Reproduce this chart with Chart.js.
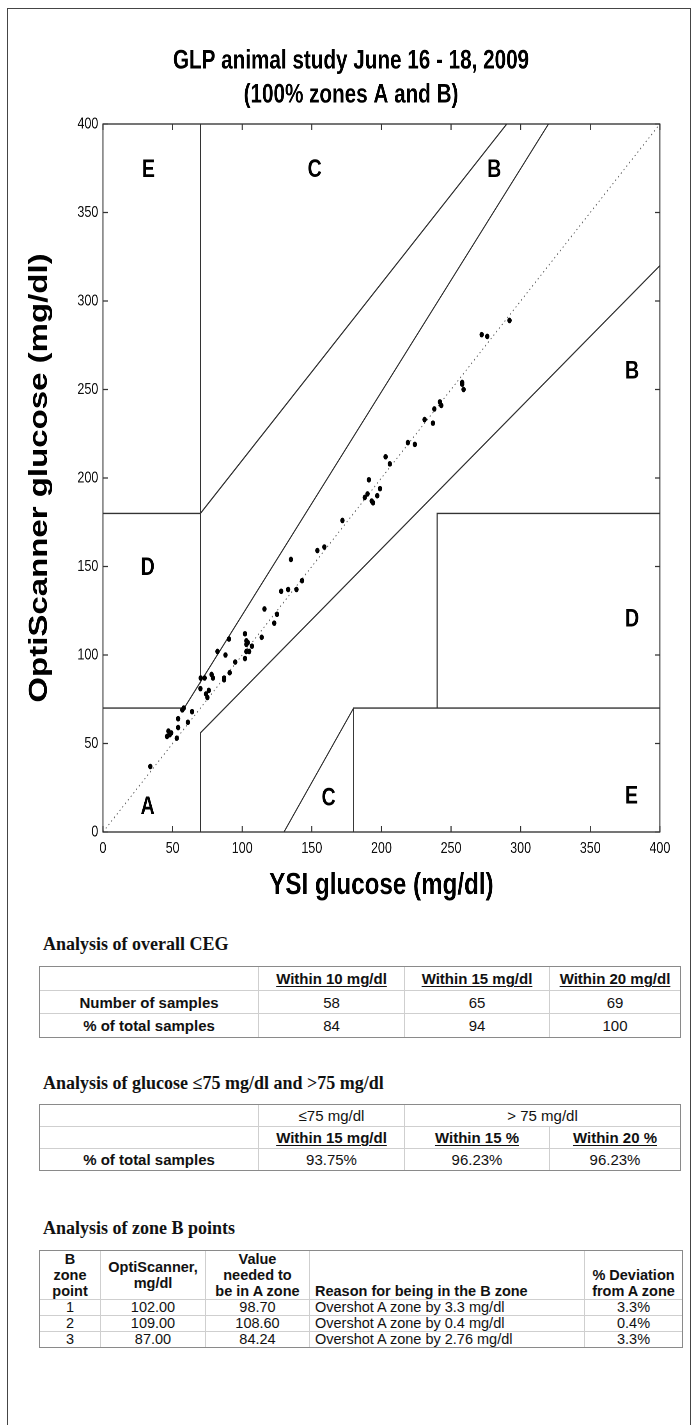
<!DOCTYPE html>
<html>
<head>
<meta charset="utf-8">
<script src="https://cdn.jsdelivr.net/npm/chart.js@4.4.1/dist/chart.umd.min.js"></script>
<style>
  html, body { margin: 0; padding: 0; background: #fff; overflow: hidden; }
  body { width: 697px; height: 1425px; position: relative; }
  #frame { position: absolute; left: 7px; top: 8px; width: 684px; height: 1440px; border: 1.5px solid #454545; box-sizing: border-box; pointer-events: none; }
  /* the chart picture in the reference is horizontally condensed: lay it out wide, then squeeze */
  #wrap { position: absolute; left: 0; top: 0; width: 894px; height: 915px; transform: scaleX(0.78); transform-origin: 0 0; }
  #chart { position: absolute; left: 0; top: 0; }
  .h { position: absolute; left: 43px; font-family: "Liberation Serif", "Times New Roman", serif; font-weight: bold; font-size: 18px; line-height: 20px; color: #111; white-space: nowrap; }
  table { position: absolute; left: 39px; border-collapse: collapse; table-layout: fixed; font-family: "Liberation Sans", Arial, Helvetica, sans-serif; font-size: 15px; color: #111; outline: 1px solid #8a8a8a; outline-offset: -1px; }
  td { border: 1px solid #cfcfcf; padding: 0; text-align: center; vertical-align: middle; white-space: nowrap; overflow: hidden; line-height: 17px; }
  td.b { font-weight: bold; }
  td.u span { font-weight: bold; text-decoration: underline; text-underline-offset: 2px; }
  #t3 { font-size: 14.5px; }
  #t3 td { line-height: 15px; }
  #t3 tr.hd td { line-height: 16px; }
  #t3 td.l { text-align: left; padding-left: 5px; }
  #t3 td.bot { vertical-align: bottom; }
  #t3 td.top { vertical-align: top; }
</style>
</head>
<body>
<div id="wrap">
  <canvas id="chart" width="894" height="915"></canvas>
</div>
<div class="h" style="top:934px">Analysis of overall CEG</div>
<table id="t1" style="top:966px"></table>
<div class="h" style="top:1073px">Analysis of glucose ≤75 mg/dl and &gt;75 mg/dl</div>
<table id="t2" style="top:1104px"></table>
<div class="h" style="top:1218px">Analysis of zone B points</div>
<table id="t3" style="top:1250px"></table>
<div id="frame"></div>

<script>
// ---------------- chart data ----------------
const chartTitle = ['GLP animal study June 16 - 18, 2009', '(100% zones A and B)'];
const xAxisTitle = 'YSI glucose (mg/dl)';
const yAxisTitle = 'OptiScanner glucose (mg/dl)';
const xTickValues = [0, 50, 100, 150, 200, 250, 300, 350, 400];
const yTickValues = [0, 50, 100, 150, 200, 250, 300, 350, 400];

// reference (YSI) vs OptiScanner readings, mg/dl (69 samples)
const ysiGlucose = [34, 46, 47, 48, 49, 53, 54, 54, 57, 58, 61, 64, 70, 70.2, 73, 74, 75, 76, 78, 79,
  82.25, 87, 87, 88, 90.5, 91, 95, 102, 102, 103, 103, 103, 104, 105, 107, 114, 116, 123, 125, 128,
  133, 135, 139, 143, 154, 159, 172, 188, 190, 191, 193, 194, 197, 199, 203, 206, 219, 224, 231, 237,
  238, 242, 243, 258, 258, 259, 272, 276, 292];
const optiGlucose = [37, 54, 57, 55, 56, 53, 59, 64, 69, 70, 62, 68, 81, 87, 87, 78, 76, 80, 89, 87,
  102, 87, 86, 100, 109, 90, 96, 112, 98, 102, 108, 106, 107, 102, 105, 110, 126, 118, 123, 136,
  137, 154, 137, 142, 159, 161, 176, 189, 191, 199, 187, 186, 190, 194, 212, 208, 220, 219, 233, 231,
  239, 243, 241, 253, 254, 250, 281, 280, 289];

// Clarke error grid boundaries [x, y]
const lineIdentity = [[0, 0], [400, 400]];
const lineAUpper   = [[0, 70], [58.33, 70], [320, 400]];
const lineVert70   = [[70, 84], [70, 400]];
const lineBUpper   = [[0, 180], [70, 180], [290, 400]];
const lineALower   = [[70, 0], [70, 56], [400, 320]];
const lineCLower   = [[130, 0], [180, 70]];
const lineELower   = [[180, 0], [180, 70], [400, 70]];
const lineDLower   = [[240, 70], [240, 180], [400, 180]];

// zone letters
const zoneLabelText = ['E', 'C', 'B', 'B', 'D', 'D', 'A', 'C', 'E'];
const zoneLabelX    = [28, 147, 276, 375, 27, 375, 27, 157, 375];
const zoneLabelY    = [374, 374, 374, 260, 149, 120, 14, 19, 20];

// ---------------- table data ----------------
const t1ColHeads = ['Within 10 mg/dl', 'Within 15 mg/dl', 'Within 20 mg/dl'];
const t1RowLabels = ['Number of samples', '% of total samples'];
const t1Counts = ['58', '65', '69'];
const t1Percents = ['84', '94', '100'];

const t2GroupHeads = ['≤75 mg/dl', '> 75 mg/dl'];
const t2ColHeads = ['Within 15 mg/dl', 'Within 15 %', 'Within 20 %'];
const t2RowLabel = '% of total samples';
const t2Percents = ['93.75%', '96.23%', '96.23%'];

const t3Heads = ['B<br>zone<br>point', 'OptiScanner,<br>mg/dl', 'Value<br>needed to<br>be in A zone', 'Reason for being in the B zone', '% Deviation<br>from A zone'];
const t3Point = ['1', '2', '3'];
const t3Opti = ['102.00', '109.00', '87.00'];
const t3Needed = ['98.70', '108.60', '84.24'];
const t3Reason = ['Overshot A zone by 3.3 mg/dl', 'Overshot A zone by 0.4 mg/dl', 'Overshot A zone by 2.76 mg/dl'];
const t3Deviation = ['3.3%', '0.4%', '3.3%'];

// ---------------- build chart ----------------
const FONT = "'Liberation Sans', Arial, Helvetica, sans-serif";
Chart.defaults.font.family = FONT;
Chart.defaults.color = '#111';

const toPts = a => a.map(p => ({ x: p[0], y: p[1] }));
const boundary = (pts, dotted) => ({
  data: toPts(pts), showLine: true, fill: false, tension: 0,
  borderColor: dotted ? '#6a6a6a' : '#333', borderWidth: dotted ? 1.2 : 1.35,
  borderDash: dotted ? [1.5, 3.5] : [],
  pointRadius: 0, pointHoverRadius: 0, pointHitRadius: 0
});

const framePlugin = {
  id: 'cegFrame',
  afterDraw(chart) {
    const { ctx, chartArea: a, scales: { x, y } } = chart;
    ctx.save();
    ctx.strokeStyle = '#333';
    ctx.lineWidth = 1.35;
    ctx.strokeRect(a.left, a.top, a.right - a.left, a.bottom - a.top);
    ctx.beginPath();
    xTickValues.forEach(v => {
      const px = x.getPixelForValue(v);
      ctx.moveTo(px, a.bottom); ctx.lineTo(px, a.bottom - 6);
      ctx.moveTo(px, a.top); ctx.lineTo(px, a.top + 6);
    });
    yTickValues.forEach(v => {
      const py = y.getPixelForValue(v);
      ctx.moveTo(a.left, py); ctx.lineTo(a.left + 6.5, py);
      ctx.moveTo(a.right, py); ctx.lineTo(a.right - 6.5, py);
    });
    ctx.stroke();
    ctx.fillStyle = '#000';
    ctx.font = 'bold 25px ' + FONT;
    ctx.textAlign = 'left';
    ctx.textBaseline = 'middle';
    zoneLabelText.forEach((t, i) => ctx.fillText(t, x.getPixelForValue(zoneLabelX[i]), y.getPixelForValue(zoneLabelY[i])));
    ctx.restore();
  }
};

new Chart(document.getElementById('chart'), {
  type: 'scatter',
  data: {
    datasets: [
      { data: ysiGlucose.map((v, i) => ({ x: v, y: optiGlucose[i] })), showLine: false,
        pointRadius: 2.8, pointHoverRadius: 2.8, backgroundColor: '#000', borderWidth: 0 },
      boundary(lineIdentity, true),
      boundary(lineAUpper), boundary(lineVert70), boundary(lineBUpper), boundary(lineALower),
      boundary(lineCLower), boundary(lineELower), boundary(lineDLower)
    ]
  },
  options: {
    responsive: false,
    animation: false,
    devicePixelRatio: 2,
    layout: { padding: { top: 30, left: 54, right: 48, bottom: 11 } },
    plugins: {
      legend: { display: false },
      tooltip: { enabled: false },
      title: {
        display: true, text: chartTitle, color: '#000',
        font: { size: 26.5, weight: 'bold', lineHeight: 34 / 26.5 },
        padding: { top: 14, bottom: 12 }
      }
    },
    scales: {
      x: {
        type: 'linear', position: 'bottom', min: 0, max: 400,
        afterBuildTicks: s => { s.ticks = xTickValues.map(v => ({ value: v })); },
        afterFit: s => { s.height = 72; },
        grid: { display: false, drawTicks: false },
        border: { display: false },
        ticks: { font: { size: 16 }, color: '#111', padding: 7, maxRotation: 0, autoSkip: false },
        title: { display: true, text: xAxisTitle, color: '#000', padding: 0, font: { size: 31, weight: 'bold', lineHeight: 1.2 } }
      },
      y: {
        type: 'linear', position: 'left', min: 0, max: 400,
        afterBuildTicks: s => { s.ticks = yTickValues.map(v => ({ value: v })); },
        afterFit: s => { s.width = 78; },
        grid: { display: false, drawTicks: false },
        border: { display: false },
        ticks: { font: { size: 16 }, color: '#111', padding: 6, autoSkip: false },
        title: { display: true, text: yAxisTitle, color: '#000', padding: { top: -22.8, bottom: 0 }, font: { size: 33, weight: 'bold', lineHeight: 1.2 } }
      }
    }
  },
  plugins: [framePlugin]
});

// ---------------- build tables ----------------
const colgroup = ws => '<colgroup>' + ws.map(w => `<col style="width:${w}px">`).join('') + '</colgroup>';
const W4 = [219, 146, 145, 131];

document.getElementById('t1').innerHTML = colgroup(W4) +
  `<tr style="height:23.7px"><td></td>${t1ColHeads.map(h => `<td class="u"><span>${h}</span></td>`).join('')}</tr>` +
  `<tr style="height:23.7px"><td class="b">${t1RowLabels[0]}</td>${t1Counts.map(v => `<td>${v}</td>`).join('')}</tr>` +
  `<tr style="height:23.7px"><td class="b">${t1RowLabels[1]}</td>${t1Percents.map(v => `<td>${v}</td>`).join('')}</tr>`;

document.getElementById('t2').innerHTML = colgroup(W4) +
  `<tr style="height:22px"><td></td><td>${t2GroupHeads[0]}</td><td colspan="2">${t2GroupHeads[1]}</td></tr>` +
  `<tr style="height:22px"><td></td>${t2ColHeads.map(h => `<td class="u"><span>${h}</span></td>`).join('')}</tr>` +
  `<tr style="height:22px"><td class="b">${t2RowLabel}</td>${t2Percents.map(v => `<td>${v}</td>`).join('')}</tr>`;

const W5 = [61, 105, 104, 275, 98];
let t3 = colgroup(W5) +
  `<tr class="hd" style="height:48px"><td class="b">${t3Heads[0]}</td><td class="b">${t3Heads[1]}</td><td class="b">${t3Heads[2]}</td>` +
  `<td class="b l bot">${t3Heads[3]}</td><td class="b bot">${t3Heads[4]}</td></tr>`;
t3Point.forEach((p, i) => {
  t3 += `<tr style="height:15px"><td>${p}</td><td>${t3Opti[i]}</td><td>${t3Needed[i]}</td>` +
        `<td class="l">${t3Reason[i]}</td><td class="top">${t3Deviation[i]}</td></tr>`;
});
document.getElementById('t3').innerHTML = t3;
</script>
</body>
</html>
